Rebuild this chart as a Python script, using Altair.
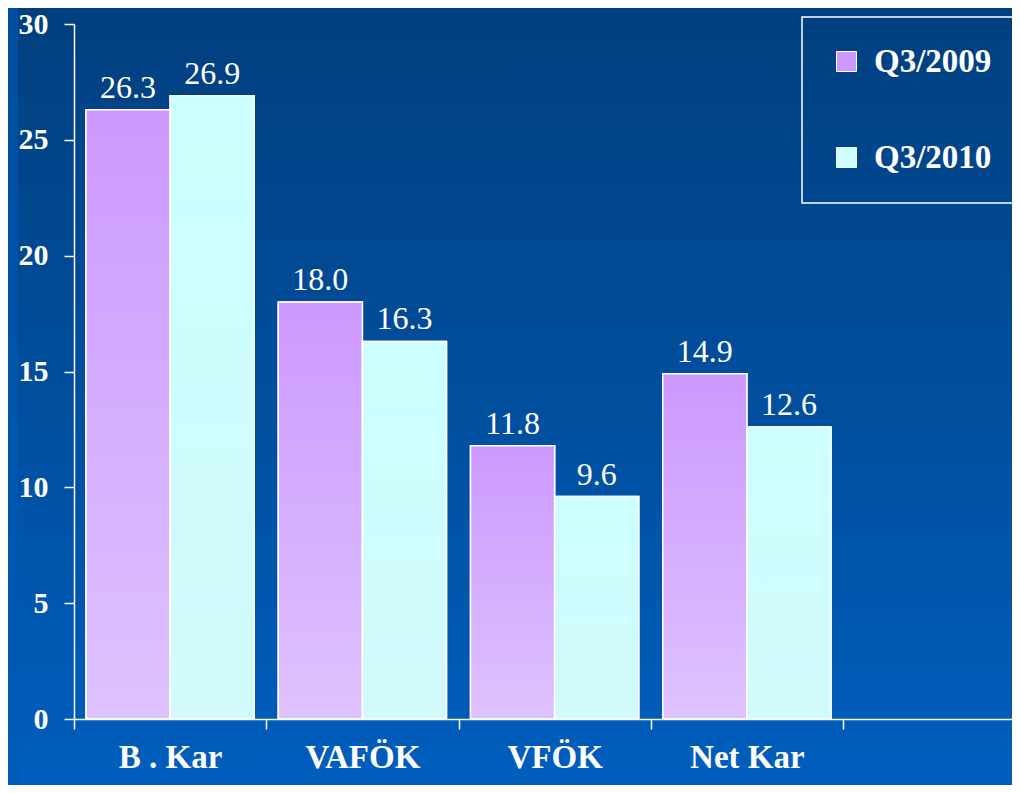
import altair as alt
import pandas as pd

categories = ["B . Kar", "VAFÖK", "VFÖK", "Net Kar"]
series = ["Q3/2009", "Q3/2010"]
q2009 = [26.3, 18.0, 11.8, 14.9]
q2010 = [26.9, 16.3, 9.6, 12.6]
y_ticks = [0, 5, 10, 15, 20, 25, 30]

rows = []
for c, a, b in zip(categories, q2009, q2010):
    rows.append({"cat": c, "series": series[0], "value": a})
    rows.append({"cat": c, "series": series[1], "value": b})
df = pd.DataFrame(rows)

W = 938
H = 695
PL, PT, PB = 66, 16, 66
FONT = "Liberation Serif"

x_scale = alt.Scale(domain=categories, paddingInner=0, paddingOuter=0.4395, align=0)
xo_scale = alt.Scale(domain=series, paddingInner=0, paddingOuter=0.143)
y_scale = alt.Scale(domain=[0, 30], nice=False)

bg_grad = alt.Gradient(
    gradient="linear", x1=0, y1=0, x2=0, y2=1,
    stops=[alt.GradientStop(offset=0, color="#013f7e"),
           alt.GradientStop(offset=1, color="#005ebd")],
)
strip_grad = alt.Gradient(
    gradient="linear", x1=0, y1=0, x2=0, y2=1,
    stops=[alt.GradientStop(offset=0, color="#004e9e"),
           alt.GradientStop(offset=1, color="#005bb8")],
)
purple_grad = alt.Gradient(
    gradient="linear", x1=0, y1=0, x2=0, y2=1,
    stops=[alt.GradientStop(offset=0, color="#cc99ff"),
           alt.GradientStop(offset=1, color="#dec2ff")],
)
cyan_grad = alt.Gradient(
    gradient="linear", x1=0, y1=0, x2=0, y2=1,
    stops=[alt.GradientStop(offset=0, color="#ccffff"),
           alt.GradientStop(offset=1, color="#d2fafd")],
)

one = pd.DataFrame({"a": [0]})
bg = alt.Chart(one).mark_rect(color=bg_grad).encode(
    x=alt.value(-PL), x2=alt.value(W + 10), y=alt.value(-PT - 5), y2=alt.value(H + PB + 5)
)
strip = alt.Chart(one).mark_rect(color=strip_grad).encode(
    x=alt.value(-PL), x2=alt.value(-PL + 10), y=alt.value(-PT - 5), y2=alt.value(H + PB + 5)
)

x_enc = alt.X(
    "cat:N", scale=x_scale, sort=categories,
    axis=alt.Axis(
        title=None, labelAngle=0, tickBand="extent", tickSize=10, tickWidth=1.5,
        domainWidth=1.5, domainColor="white", tickColor="white", labelColor="white",
        labelFont=FONT, labelFontWeight="bold", labelFontSize=33, labelPadding=12,
        zindex=1,
    ),
)
xo_enc = alt.XOffset("series:N", scale=xo_scale)
y_enc = alt.Y(
    "value:Q", scale=y_scale,
    axis=alt.Axis(
        title=None, values=y_ticks, grid=False, tickSize=10, tickWidth=1.5,
        domainWidth=1.5, domainColor="white", tickColor="white", labelColor="white",
        labelFont=FONT, labelFontWeight="bold", labelFontSize=30, labelPadding=16,
        zindex=1,
    ),
)

bars = alt.Chart(df).mark_bar(stroke="white", strokeWidth=1.5).encode(
    x=x_enc, xOffset=xo_enc, y=y_enc,
    color=alt.Color(
        "series:N",
        scale=alt.Scale(domain=series, range=["#cc99ff", "#ccffff"]),
        legend=alt.Legend(
            title=None, orient="none", legendX=728, legendY=-7, padding=28,
            strokeColor="white", symbolType="square", symbolSize=400,
            symbolStrokeColor="white", symbolStrokeWidth=1, labelOffset=11,
            labelFont=FONT, labelFontWeight="bold", labelFontSize=33, labelColor="white",
            rowPadding=62, zindex=1,
        ),
    ),
)

bars09 = alt.Chart(df).transform_filter(alt.datum.series == series[0]).mark_bar(
    color=purple_grad, stroke="white", strokeWidth=1.5
).encode(x=x_enc, xOffset=xo_enc, y=y_enc)

bars10 = alt.Chart(df).transform_filter(alt.datum.series == series[1]).mark_bar(
    color=cyan_grad, stroke="white", strokeWidth=1.5
).encode(x=x_enc, xOffset=xo_enc, y=y_enc)

labels = alt.Chart(df).mark_text(
    font=FONT, fontSize=32, color="white", baseline="bottom", dy=-5
).encode(x=x_enc, xOffset=xo_enc, y=y_enc, text=alt.Text("value:Q", format=".1f"))

chart = alt.layer(bg, strip, bars, bars09, bars10, labels).properties(
    width=W, height=H,
    autosize=alt.AutoSizeParams(type="none"),
    padding={"left": PL, "top": PT, "right": 0, "bottom": PB},
    background="#013f7e",
).configure_view(stroke=None).configure_legend(strokeWidth=1.5)

chart.save("out.html", embed_options={"renderer": "svg", "actions": False})
